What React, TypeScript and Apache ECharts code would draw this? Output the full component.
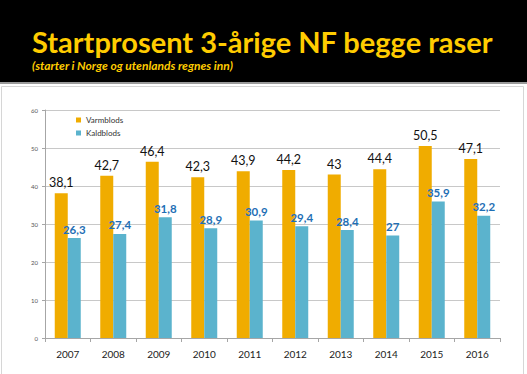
import React, { useEffect, useRef } from "react";
import * as echarts from "echarts";

const years = ["2007", "2008", "2009", "2010", "2011", "2012", "2013", "2014", "2015", "2016"];
const varmblods = [38.1, 42.7, 46.4, 42.3, 43.9, 44.2, 43, 44.4, 50.5, 47.1];
const kaldblods = [26.3, 27.4, 31.8, 28.9, 30.9, 29.4, 28.4, 27, 35.9, 32.2];
const titleText = "Startprosent 3-årige NF begge raser";
const subtitleText = "(starter i Norge og utenlands regnes inn)";

const fmt = (v: number) => String(v).replace(".", ",");

export default function App() {
  const ref = useRef<HTMLDivElement>(null);
  useEffect(() => {
    const chart = echarts.init(ref.current!, null, { renderer: "svg" });
    chart.setOption({
      animation: false,
      backgroundColor: "#ffffff",
      textStyle: { fontFamily: "Lato" },
      graphic: [
        { type: "rect", shape: { x: 0, y: 0, width: 527, height: 82 }, style: { fill: "#000000" } },
        { type: "rect", shape: { x: 0, y: 82, width: 527, height: 2 }, style: { fill: "#9a9a9a" } },
        { type: "rect", shape: { x: 1.5, y: 86.5, width: 522, height: 290 }, style: { fill: "none", stroke: "#d6d6d6", lineWidth: 1 } },
        {
          type: "text", x: 32, y: 41,
          style: { text: titleText, fill: "#FFCC00", font: "bold 29px Lato", verticalAlign: "middle" },
        },
        {
          type: "text", x: 32, y: 65,
          style: { text: subtitleText, fill: "#FFCC00", font: "italic bold 12px Lato", verticalAlign: "middle" },
        },
      ],
      legend: {
        orient: "vertical",
        left: 71,
        top: 111,
        itemWidth: 5,
        itemHeight: 5,
        itemGap: 5,
        icon: "rect",
        textStyle: { fontSize: 8, color: "#333", fontFamily: "Lato" },
        data: ["Varmblods", "Kaldblods"],
      },
      grid: { left: 45, right: 27, top: 110, bottom: 36, containLabel: false },
      xAxis: {
        type: "category",
        data: years,
        axisLine: { lineStyle: { color: "#a6a6a6" } },
        axisTick: { show: true, lineStyle: { color: "#a6a6a6" }, length: 4 },
        axisLabel: { color: "#222", fontSize: 10, margin: 11, fontFamily: "Lato" },
      },
      yAxis: {
        type: "value",
        min: 0,
        max: 60,
        interval: 10,
        axisLine: { show: true, lineStyle: { color: "#a6a6a6" } },
        axisTick: { show: true, length: 3, lineStyle: { color: "#a6a6a6" } },
        axisLabel: { color: "#555", fontSize: 6, margin: 7 },
        splitLine: { lineStyle: { color: "#c8c8c8" } },
      },
      series: [
        {
          name: "Varmblods",
          type: "bar",
          data: varmblods,
          barWidth: 13,
          barGap: "0%",
          itemStyle: { color: "#F0AC00" },
          label: {
            show: true, position: "top", distance: 4,
            formatter: (p: any) => fmt(p.value),
            color: "#111", fontSize: 12.5, fontFamily: "Lato",
          },
        },
        {
          name: "Kaldblods",
          type: "bar",
          data: kaldblods,
          barWidth: 13,
          itemStyle: { color: "#5BB3CD" },
          label: {
            show: true, position: "top", distance: 3,
            formatter: (p: any) => fmt(p.value),
            color: "#1F6FB5", fontSize: 11.5, fontWeight: "bold", fontFamily: "Lato",
          },
        },
      ],
    });
    return () => chart.dispose();
  }, []);
  return (
    <div style={{ position: "fixed", left: 0, top: 0 }}>
      <div ref={ref} style={{ width: 527, height: 374 }} />
    </div>
  );
}
